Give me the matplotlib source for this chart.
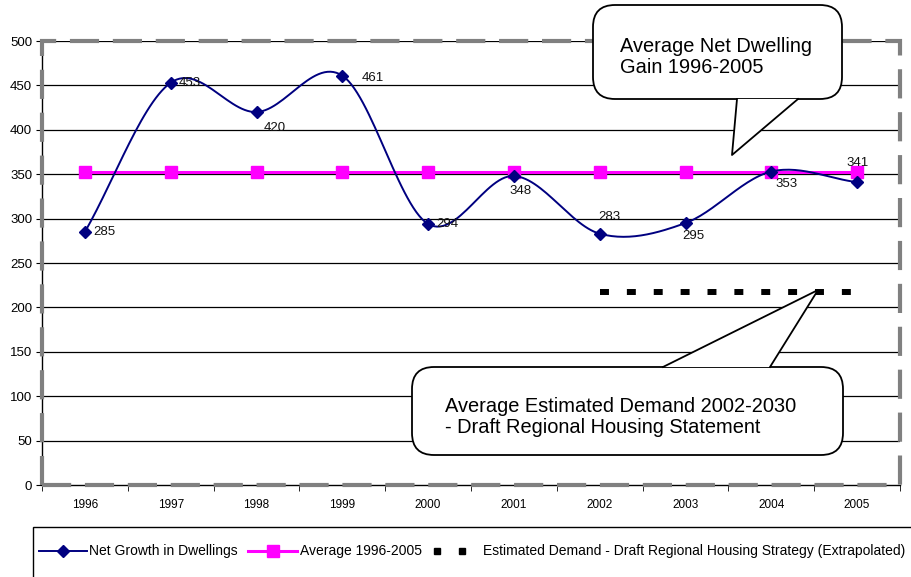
import numpy as np
import matplotlib
matplotlib.use("Agg")
import matplotlib.pyplot as plt
from matplotlib.lines import Line2D
from matplotlib.patches import FancyBboxPatch, Polygon, Rectangle

# ---- data ----
years = ["1996", "1997", "1998", "1999", "2000", "2001", "2002", "2003", "2004", "2005"]
net_growth = [285, 453, 420, 461, 294, 348, 283, 295, 353, 341]
average_value = 353
demand_years = ["2002", "2003", "2004", "2005"]
demand_value = 217
yticks = [0, 50, 100, 150, 200, 250, 300, 350, 400, 450, 500]
legend_labels = ["Net Growth in Dwellings", "Average 1996-2005",
                 "Estimated Demand - Draft Regional Housing Strategy (Extrapolated)"]
callout1_text = "Average Net Dwelling\nGain 1996-2005"
callout2_text = "Average Estimated Demand 2002-2030\n- Draft Regional Housing Statement"

# label offsets (points) for data labels
label_offsets = [(6, 0), (6, 0), (5, -11.5), (14, -2), (6, 0),
                 (5, -11), (7, 12), (6, -9.5), (11, -9), (0, 14)]
label_ha = ["left", "left", "left", "left", "left",
            "center", "center", "center", "center", "center"]

W, H = 912, 577
FONT = ["Liberation Sans", "DejaVu Sans"]
plt.rcParams["font.family"] = FONT

fig = plt.figure(figsize=(W / 100, H / 100), dpi=100)


def fx(x):
    return x / W


def fy(y):
    return 1 - y / H


ax = fig.add_axes([fx(42), fy(485), fx(900) - fx(42), fy(41) - fy(485)])
x = np.arange(len(years))


def smooth(xs, ys, n=30):
    xs = np.asarray(xs, float)
    ys = np.asarray(ys, float)
    P = np.column_stack([xs, ys])
    P = np.vstack([P[0] - (P[1] - P[0]), P, P[-1] + (P[-1] - P[-2])])
    out = []
    t = np.linspace(0, 1, n)
    for i in range(1, len(P) - 2):
        p0, p1, p2, p3 = P[i - 1], P[i], P[i + 1], P[i + 2]
        c1 = p1 + (p2 - p0) / 6
        c2 = p2 - (p3 - p1) / 6
        tt = t[:, None]
        seg = ((1 - tt) ** 3) * p1 + 3 * ((1 - tt) ** 2) * tt * c1 + 3 * (1 - tt) * tt ** 2 * c2 + tt ** 3 * p2
        out.append(seg if i == 1 else seg[1:])
    out = np.vstack(out)
    return out[:, 0], out[:, 1]


# gridlines
ax.set_ylim(0, 500)
ax.set_xlim(-0.5, len(years) - 0.5)
ax.set_yticks(yticks)
for v in yticks[1:]:
    ax.axhline(v, color="black", lw=0.9, zorder=1)

# average line
ax.plot(x, [average_value] * len(x), color="#FF00FF", lw=2.2, marker="s",
        markersize=9, markeredgecolor="#FF00FF", zorder=3)

# net growth smoothed
sx, sy = smooth(x, net_growth)
ax.plot(sx, sy, color="#000080", lw=1.4, zorder=4)
ax.plot(x, net_growth, ls="none", marker="D", markersize=6,
        color="#000080", zorder=5)

# demand dashed
dx = [years.index(y) for y in demand_years]
ax.plot(dx, [demand_value] * len(dx), color="black", lw=4.3,
        dashes=(1.5, 3.0), dash_capstyle="butt", zorder=3)

# data labels
for i, v in enumerate(net_growth):
    ax.annotate(str(v), (x[i], v), xytext=label_offsets[i], textcoords="offset points",
                ha=label_ha[i], va="center", fontsize=9.5, color="#111111", zorder=6)

# axes style
ax.set_xticks(x)
ax.set_xticklabels(years, fontsize=8.5)
ax.set_xticks(np.arange(-0.5, len(years), 1.0), minor=True)
ax.tick_params(axis="x", which="major", length=0, pad=10)
ax.tick_params(axis="x", which="minor", length=4, direction="out", color="black")
ax.tick_params(axis="y", length=4, direction="out", labelsize=9.5, pad=3)
for s in ["top", "right"]:
    ax.spines[s].set_visible(False)
for s in ["left", "bottom"]:
    ax.spines[s].set_color("black")
    ax.spines[s].set_linewidth(1.0)

# gray dashed border
border = Rectangle((0, 0), 1, 1, transform=ax.transAxes, fill=False,
                   edgecolor="#808080", lw=3.0, linestyle=(0, (7.0, 3.3)),
                   clip_on=False, zorder=7)
ax.add_patch(border)


def callout(box, base, tip, text, text_xy, fs=14.4):
    x0, y0, x1, y1 = box
    r = 22
    bb = FancyBboxPatch((fx(x0) + r / W, fy(y1) + r / H),
                        fx(x1) - fx(x0) - 2 * r / W, fy(y0) - fy(y1) - 2 * r / H,
                        boxstyle=f"round,pad={r / W},rounding_size={r / W}",
                        mutation_aspect=W / H,
                        transform=fig.transFigure, facecolor="white",
                        edgecolor="black", lw=1.3, zorder=10)
    fig.add_artist(bb)
    (bx0, by), (bx1, _) = base
    poly = Polygon([(fx(bx0), fy(by)), (fx(tip[0]), fy(tip[1])), (fx(bx1), fy(by))],
                   closed=True, transform=fig.transFigure, facecolor="white",
                   edgecolor="none", zorder=11)
    fig.add_artist(poly)
    ln = Line2D([fx(bx0), fx(tip[0]), fx(bx1)], [fy(by), fy(tip[1]), fy(by)],
                transform=fig.transFigure, color="black", lw=1.3, zorder=12)
    fig.add_artist(ln)
    fig.text(fx(text_xy[0]), fy(text_xy[1]), text, fontsize=fs, ha="left", va="center",
             linespacing=1.1, zorder=13)


callout((593, 5, 842, 99), ((737, 99), (798, 99)), (732, 155), callout1_text, (620, 57))
callout((412, 367, 843, 455), ((663, 367), (770, 367)), (818, 290), callout2_text, (445, 417))

# legend box
fig.add_artist(Rectangle((fx(33), fy(590)), fx(912) - fx(33), fy(527) - fy(590),
                         transform=fig.transFigure, fill=False, edgecolor="black",
                         lw=1.0, zorder=1))
ly = fy(551)
fig.add_artist(Line2D([fx(39), fx(87)], [ly, ly], color="#000080", lw=1.4,
                      transform=fig.transFigure))
fig.add_artist(Line2D([fx(63)], [ly], marker="D", markersize=6, color="#000080",
                      transform=fig.transFigure))
fig.text(fx(89), ly, legend_labels[0], fontsize=10, va="center")
fig.add_artist(Line2D([fx(248), fx(297)], [ly, ly], color="#FF00FF", lw=2.2,
                      transform=fig.transFigure))
fig.add_artist(Line2D([fx(273)], [ly], marker="s", markersize=9, color="#FF00FF",
                      transform=fig.transFigure))
fig.text(fx(300), ly, legend_labels[1], fontsize=10, va="center")
fig.add_artist(Line2D([fx(437), fx(462)], [ly, ly], ls="none", marker="s",
                      markersize=4.3, color="black", transform=fig.transFigure))
fig.text(fx(483), ly, legend_labels[2], fontsize=10, va="center")

fig.savefig("out.png", dpi=100)
